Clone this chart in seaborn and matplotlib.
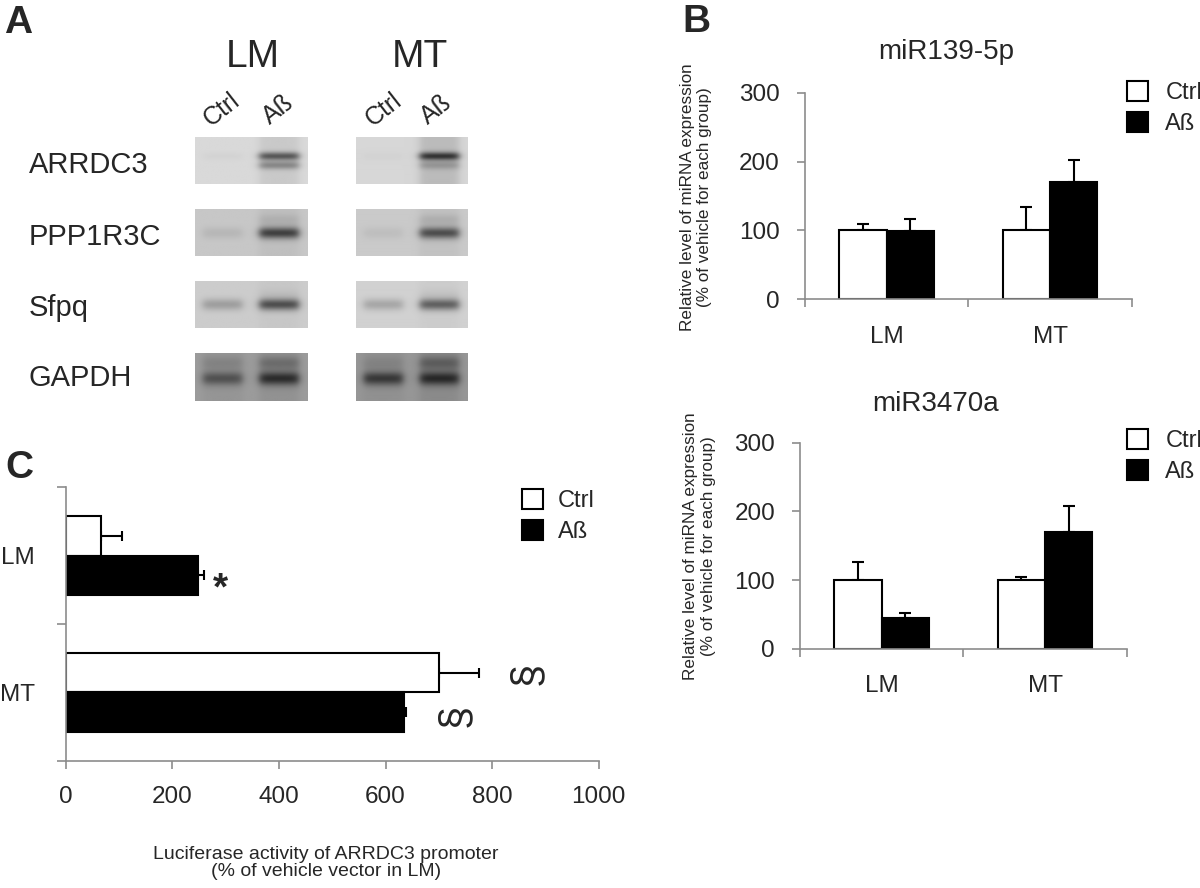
import numpy as np
import pandas as pd
import matplotlib
matplotlib.use("Agg")
import matplotlib.pyplot as plt
from matplotlib.patches import Patch
import seaborn as sns

# ---- data -------------------------------------------------------------
cells = ["LM", "MT"]
groups = ["Ctrl", "Aß"]

# order: LM Ctrl, LM Aß, MT Ctrl, MT Aß
mir139_mean = [100, 99, 100, 170]
mir139_err = [10, 18, 34, 33]
mir3470_mean = [100, 44, 100, 170]
mir3470_err = [26, 8, 5, 38]
luc_mean = [66, 248, 701, 634]
luc_err = [40, 11, 75, 5]

# gel band darkness per lane (LM Ctrl, LM Aß, MT Ctrl, MT Aß)
genes = ["ARRDC3", "PPP1R3C", "Sfpq", "GAPDH"]
band_main = {"ARRDC3": [0.03, 0.66, 0.02, 0.80],
             "PPP1R3C": [0.10, 0.80, 0.07, 0.72],
             "Sfpq": [0.28, 0.74, 0.25, 0.64],
             "GAPDH": [0.55, 0.82, 0.74, 0.82]}
band_second = {"ARRDC3": [0.0, 0.38, 0.0, 0.22],
               "PPP1R3C": [0.0, 0.10, 0.0, 0.12],
               "Sfpq": [0.0, 0.05, 0.0, 0.05],
               "GAPDH": [0.15, 0.30, 0.12, 0.38]}
lane_smear = {"ARRDC3": [0.0, 0.09, 0.0, 0.16],
              "PPP1R3C": [0.0, 0.05, 0.0, 0.05],
              "Sfpq": [0.0, 0.03, 0.0, 0.03],
              "GAPDH": [0.05, 0.08, 0.05, 0.10]}
gel_bg = {"ARRDC3": [0.85, 0.84], "PPP1R3C": [0.78, 0.79],
          "Sfpq": [0.80, 0.82], "GAPDH": [0.61, 0.59]}

# ---- style ------------------------------------------------------------
sns.set_style("ticks")
plt.rcParams["font.family"] = ["Liberation Sans", "DejaVu Sans"]
grey = "#8c8c8c"
palette = {"Ctrl": "white", "Aß": "black"}

W, H = 1200, 888
fig = plt.figure(figsize=(W / 100, H / 100), dpi=100)


def rect(x0, y0, x1, y1):
    return [x0 / W, 1 - y1 / H, (x1 - x0) / W, (y1 - y0) / H]


def ftext(x, y, s, **kw):
    fig.text(x / W, 1 - y / H, s, **kw)


def bar_panel(ax, mean, err, horizontal=False, capsize=4.3):
    df = pd.DataFrame({"cell": [c for c in cells for g in groups],
                       "group": [g for c in cells for g in groups],
                       "value": mean, "err": err})
    if horizontal:
        sns.barplot(data=df, x="value", y="cell", hue="group", order=cells,
                    hue_order=groups, palette=palette, edgecolor="black",
                    linewidth=1.5, width=0.58, errorbar=None, legend=False,
                    orient="h", ax=ax, zorder=2)
    else:
        sns.barplot(data=df, x="cell", y="value", hue="group", order=cells,
                    hue_order=groups, palette=palette, edgecolor="black",
                    linewidth=1.5, width=0.58, errorbar=None, legend=False,
                    ax=ax, zorder=2)
    for i, g in enumerate(groups):
        for j, c in enumerate(cells):
            bar = ax.containers[i][j]
            row = df[(df.cell == c) & (df.group == g)].iloc[0]
            if horizontal:
                yc = bar.get_y() + bar.get_height() / 2
                ax.errorbar(row.value, yc, xerr=[[0], [row.err]], fmt="none",
                            ecolor="black", elinewidth=1.5, capsize=capsize,
                            capthick=1.5, zorder=1)
            else:
                xc = bar.get_x() + bar.get_width() / 2
                ax.errorbar(xc, row.value, yerr=[[0], [row.err]], fmt="none",
                            ecolor="black", elinewidth=1.5, capsize=capsize,
                            capthick=1.5, zorder=1)
    ax.set_xlabel("")
    ax.set_ylabel("")
    sns.despine(ax=ax)
    for s in ["left", "bottom"]:
        ax.spines[s].set_color(grey)
        ax.spines[s].set_linewidth(1.2)


def legend_at(x, y, pad):
    handles = [Patch(facecolor="white", edgecolor="black", linewidth=1.5, label="Ctrl"),
               Patch(facecolor="black", edgecolor="black", linewidth=1.5, label="Aß")]
    fig.legend(handles=handles, loc="upper left", bbox_to_anchor=(x / W, 1 - y / H),
               frameon=False, fontsize=17, handlelength=0.92, handleheight=0.92,
               handletextpad=pad, labelspacing=0.32, borderpad=0, borderaxespad=0)


# ---- panel B ----------------------------------------------------------
def style_b(ax):
    ax.set_xlim(-0.5, 1.5)
    ax.set_ylim(0, 300)
    ax.set_yticks([0, 100, 200, 300])
    ax.set_xticks([-0.5, 0.5, 1.5])
    ax.set_xticklabels([])
    ax.set_xticks([0, 1], minor=True)
    ax.set_xticklabels(cells, minor=True)
    ax.tick_params(axis="x", which="minor", length=0, pad=19, labelsize=17.5)
    ax.tick_params(axis="x", which="major", length=6, width=1.2, color=grey)
    ax.tick_params(axis="y", length=6, width=1.2, color=grey, pad=12, labelsize=17.5)


ylab_b = "Relative level of miRNA expression\n(% of vehicle for each group)"

ax_b1 = fig.add_axes(rect(805, 92.7, 1131.7, 299.3))
bar_panel(ax_b1, mir139_mean, mir139_err)
style_b(ax_b1)
ftext(946.7, 52, "miR139-5p", fontsize=20, ha="center", va="center")
ftext(696, 197, ylab_b, fontsize=12.3, rotation=90, ha="center", va="center",
      linespacing=1.2)
legend_at(1126.7, 81, 0.72)

ax_b2 = fig.add_axes(rect(800, 442.7, 1126.7, 648.7))
bar_panel(ax_b2, mir3470_mean, mir3470_err)
style_b(ax_b2)
ftext(936, 404, "miR3470a", fontsize=20, ha="center", va="center")
ftext(699.5, 546, ylab_b, fontsize=12.3, rotation=90, ha="center", va="center",
      linespacing=1.2)
legend_at(1126.7, 429, 0.72)

# ---- panel C ----------------------------------------------------------
ax_c = fig.add_axes(rect(65.7, 487.3, 598.7, 760.7))
bar_panel(ax_c, luc_mean, luc_err, horizontal=True, capsize=3.6)
ax_c.set_xlim(0, 1000)
ax_c.set_ylim(1.5, -0.5)
ax_c.set_xticks(range(0, 1001, 200))
ax_c.set_yticks([-0.5, 0.5, 1.5])
ax_c.set_yticklabels([])
ax_c.set_yticks([0, 1], minor=True)
ax_c.set_yticklabels(cells, minor=True)
ax_c.tick_params(axis="y", which="minor", length=0, pad=22, labelsize=17.5)
ax_c.tick_params(axis="y", which="major", length=6.5, width=1.2, color=grey)
ax_c.tick_params(axis="x", length=5.5, width=1.2, color=grey, pad=13, labelsize=17.5)
ax_c.text(290, 0.25, "*", fontsize=28, fontweight="bold", ha="center", va="center")
ax_c.text(867, 0.86, "§", fontsize=30, rotation=90, ha="center", va="center")
ax_c.text(732, 1.17, "§", fontsize=30, rotation=90, ha="center", va="center")
ftext(326, 863, "Luciferase activity of ARRDC3 promoter\n(% of vehicle vector in LM)",
      fontsize=14, ha="center", va="center", linespacing=1.0)
legend_at(521.7, 489, 0.62)

# ---- panel A (gels) ---------------------------------------------------
box_x = [(195, 307.3), (355.7, 467.3)]
box_top = [136.7, 209, 281, 353.3]
box_h = 47.3
main_pos = {"ARRDC3": 0.42, "PPP1R3C": 0.52, "Sfpq": 0.51, "GAPDH": 0.53}
second_pos = {"ARRDC3": 0.61, "PPP1R3C": 0.25, "Sfpq": 0.30, "GAPDH": 0.21}
band_sigma = {"ARRDC3": 0.06, "PPP1R3C": 0.085, "Sfpq": 0.085, "GAPDH": 0.10}
lane_edges = [(0.07, 0.42), (0.57, 0.92)]
label_y = [165, 237, 308, 378]

for r, gene in enumerate(genes):
    for b, (x0, x1) in enumerate(box_x):
        nx, ny = 112, 47
        xx = (np.arange(nx) + 0.5) / nx
        yy = (np.arange(ny) + 0.5) / ny
        bg = gel_bg[gene][b]
        img = np.full((ny, nx), bg)
        for k, (l0, l1) in enumerate(lane_edges):
            lane = 1 / (1 + np.exp(-(xx - l0) / 0.02)) / (1 + np.exp((xx - l1) / 0.02))
            idx = 2 * b + k
            prof = (band_main[gene][idx] * np.exp(-0.5 * ((yy - main_pos[gene]) / band_sigma[gene]) ** 2)
                    + band_second[gene][idx] * np.exp(-0.5 * ((yy - second_pos[gene]) / band_sigma[gene]) ** 2)
                    + lane_smear[gene][idx])
            img = img - np.outer(prof, lane) * bg * 0.8
        gax = fig.add_axes(rect(x0, box_top[r], x1, box_top[r] + box_h))
        gax.imshow(img, cmap="gray", vmin=0, vmax=1, aspect="auto",
                   interpolation="bilinear")
        gax.axis("off")
    ftext(28.6, label_y[r], gene, fontsize=21, ha="left", va="center")

ftext(253.3, 56.7, "LM", fontsize=28, ha="center", va="center")
ftext(420, 56.7, "MT", fontsize=28, ha="center", va="center")
for x, lab in zip([221.7, 278.3, 383.3, 436.7], ["Ctrl", "Aß", "Ctrl", "Aß"]):
    ftext(x, 110, lab, fontsize=18, rotation=38, ha="center", va="center",
          rotation_mode="anchor")

# ---- panel letters ----------------------------------------------------
ftext(18, 23, "A", fontsize=28, fontweight="bold", ha="center", va="center")
ftext(696, 22, "B", fontsize=28, fontweight="bold", ha="center", va="center")
ftext(19, 468, "C", fontsize=28, fontweight="bold", ha="center", va="center")

fig.savefig("out.png", dpi=100)
